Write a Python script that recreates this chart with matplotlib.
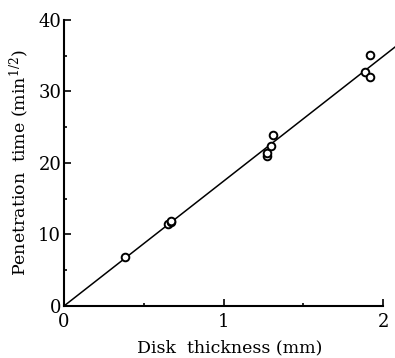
#!/usr/bin/env python3
# Penetration time vs disk thickness, with fitted line through origin
import numpy as np
import matplotlib.pyplot as plt
from matplotlib.ticker import MultipleLocator

thickness = [0.38, 0.65, 0.67, 0.67, 1.27, 1.27, 1.30, 1.31, 1.89, 1.92, 1.92]
pen_time = [6.9, 11.5, 11.8, 11.9, 21.0, 21.4, 22.4, 23.9, 32.7, 32.0, 35.1]
fit_slope = 17.45
fit_x = [0.0, 2.075]

plt.rcParams['font.family'] = ['DejaVu Serif']
plt.rcParams['mathtext.fontset'] = 'dejavuserif'

fig = plt.figure(figsize=(3.95, 3.58), dpi=100)
ax = fig.add_axes([0.162, 0.1453, 0.838, 0.799])

ax.plot(fit_x, np.array(fit_x) * fit_slope, color='black', lw=1.1, clip_on=False)
ax.plot(thickness, pen_time, 'o', mfc='white', mec='black', ms=5.5, mew=1.4,
        clip_on=False)

ax.set_xlim(0, 2.075)
ax.set_ylim(0, 40)
ax.spines['top'].set_visible(False)
ax.spines['right'].set_visible(False)
ax.spines['bottom'].set_bounds(0, 2)
ax.spines['left'].set_linewidth(1.5)
ax.spines['bottom'].set_linewidth(1.5)

ax.xaxis.set_major_locator(MultipleLocator(1))
ax.xaxis.set_minor_locator(MultipleLocator(0.5))
ax.yaxis.set_major_locator(MultipleLocator(10))
ax.yaxis.set_minor_locator(MultipleLocator(5))
ax.tick_params(which='both', direction='in', labelsize=13, width=1.2)
ax.tick_params(which='major', length=5)
ax.tick_params(which='minor', length=2)
ax.tick_params(axis='y', pad=2)
ax.tick_params(axis='x', pad=5)

ax.set_xlabel('Disk  thickness (mm)', fontsize=12.5, labelpad=6)
ax.set_ylabel('Penetration  time (min$^{1/2}$)', fontsize=12.5, labelpad=5)

fig.savefig('out.png', dpi=100)
